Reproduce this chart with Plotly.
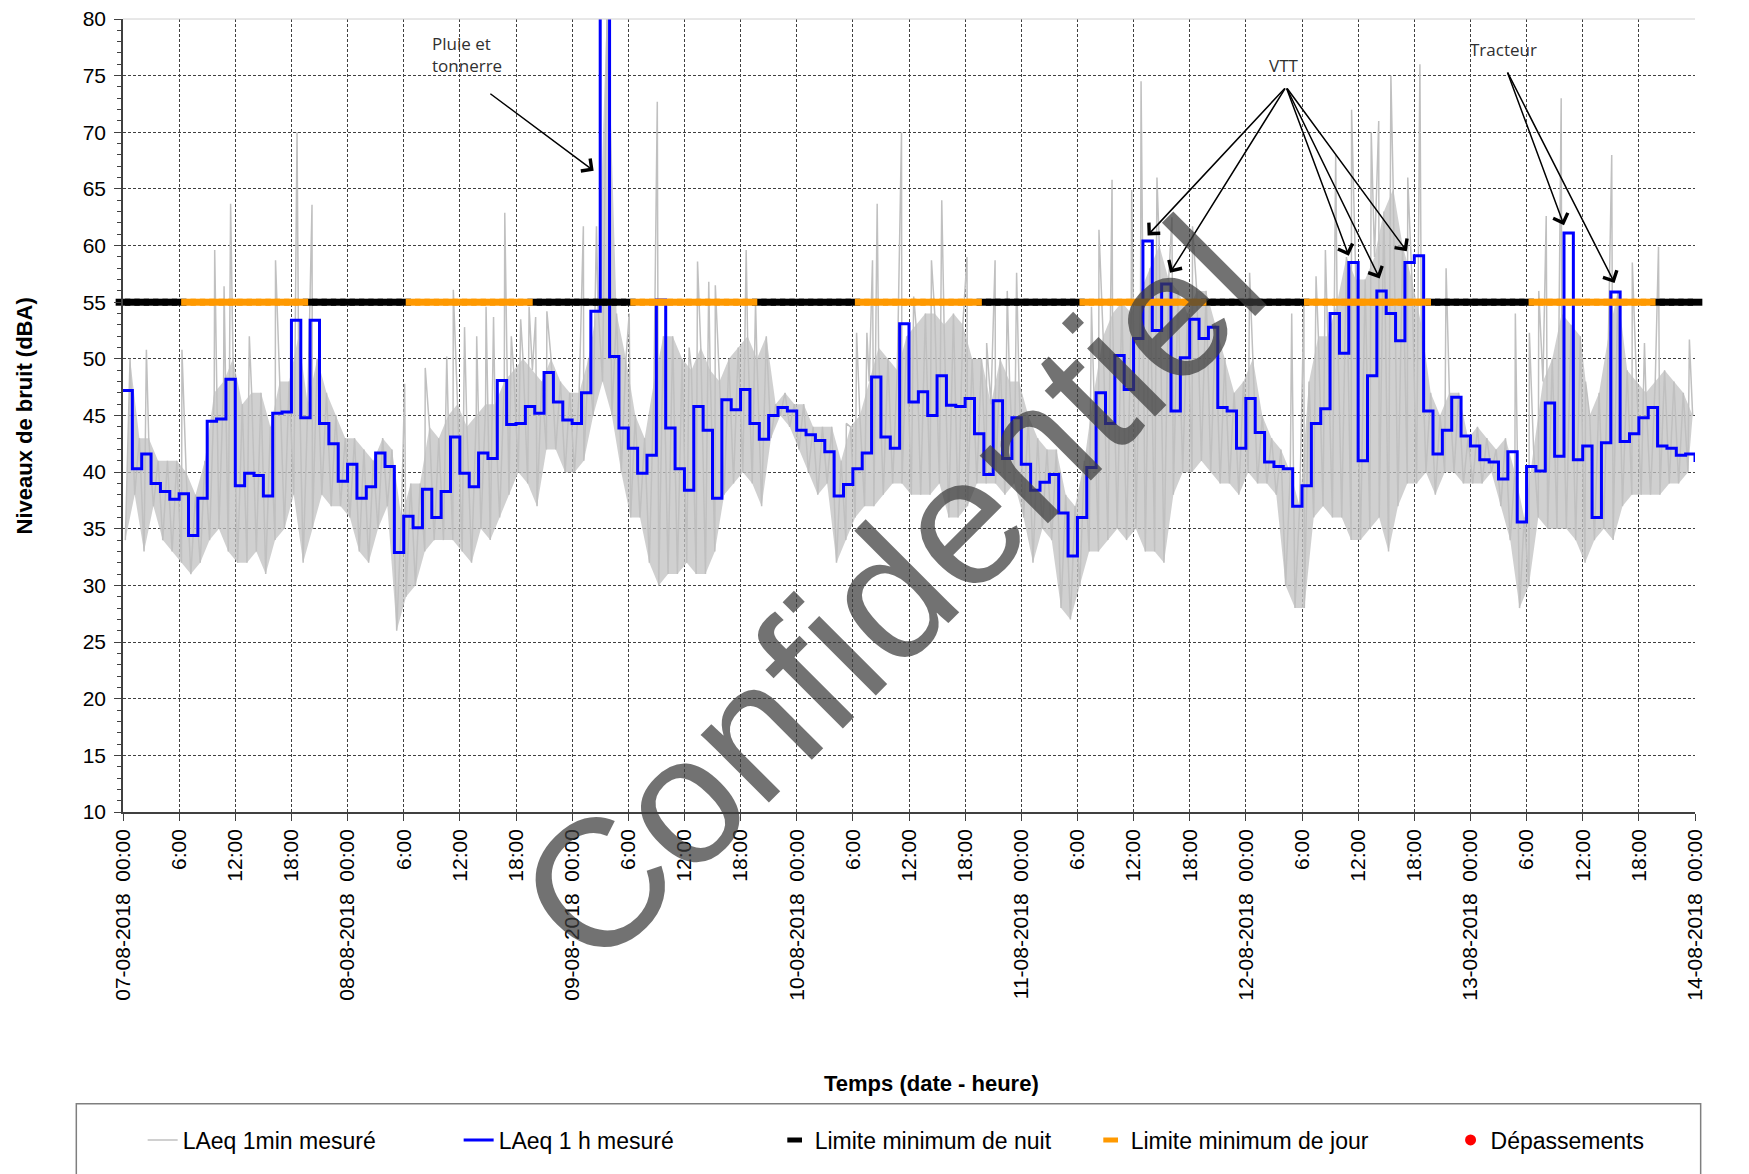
import plotly.graph_objects as go

# --- data -------------------------------------------------------------
day_labels = ["07-08-2018", "08-08-2018", "09-08-2018", "10-08-2018",
              "11-08-2018", "12-08-2018", "13-08-2018", "14-08-2018"]
hour_labels = ["00:00", "6:00", "12:00", "18:00"]

hours = list(range(169))  # 07-08 00:00 -> 14-08 00:00

# LAeq 1 h (dBA), one value per hour (last value closes the step at 14-08 00:00)
laeq_1h = [
    47.2, 40.3, 41.6, 39.0, 38.3, 37.6, 38.1, 34.4, 37.7, 44.5, 44.7, 48.2,
    38.8, 39.9, 39.7, 37.9, 45.2, 45.3, 53.4, 44.8, 53.4, 44.3, 42.5, 39.2,
    40.7, 37.7, 38.7, 41.7, 40.5, 32.9, 36.1, 35.1, 38.5, 36.0, 38.3, 43.1,
    39.9, 38.7, 41.7, 41.2, 48.1, 44.2, 44.3, 45.8, 45.2, 48.8, 46.2, 44.6,
    44.3, 47.0, 54.2, 85.0, 50.2, 43.9, 42.1, 39.9, 41.5, 55.2, 43.9, 40.3,
    38.4, 45.8, 43.7, 37.7, 46.4, 45.5, 47.3, 44.3, 42.9, 45.0, 45.7, 45.4,
    43.7, 43.3, 42.8, 41.8, 37.9, 38.9, 40.3, 41.7, 48.4, 43.1, 42.1, 53.1,
    46.2, 47.1, 45.0, 48.5, 45.9, 45.8, 46.5, 43.4, 39.8, 46.3, 41.2, 44.8,
    40.7, 38.4, 39.1, 39.8, 36.4, 32.6, 36.0, 40.4, 47.0, 44.3, 50.3, 47.3,
    51.8, 60.4, 52.5, 56.6, 45.4, 50.1, 53.5, 51.8, 52.8, 45.7, 45.4, 42.1,
    46.5, 43.5, 40.9, 40.5, 40.3, 37.0, 38.8, 44.3, 45.6, 54.0, 50.5, 58.5,
    41.0, 48.5, 56.0, 54.0, 51.6, 58.5, 59.1, 45.4, 41.6, 43.7, 46.6, 43.2,
    42.3, 41.1, 40.9, 39.4, 41.8, 35.6, 40.5, 40.1, 46.1, 41.4, 61.1, 41.1,
    42.3, 36.0, 42.6, 55.9, 42.7, 43.4, 44.8, 45.7, 42.3, 42.1, 41.5, 41.6,
    40.9,
]

# LAeq 1 min: hourly low / high of the dense band, plus isolated peaks
gray_lo = [
    34, 38, 33, 37, 34, 33, 32, 31, 32, 34, 35, 33, 32, 32, 33, 31, 34, 35, 38, 32, 35, 38, 37, 37,
    36, 33, 32, 35, 37, 26, 29, 30, 33, 34, 34, 34, 33, 32, 35, 34, 36, 38, 40, 39, 37, 42, 42, 40,
    40, 41, 45, 48, 45, 40, 36, 36, 32, 30, 31, 31, 32, 31, 31, 33, 38, 39, 40, 39, 37, 43, 45, 44,
    42, 40, 38, 39, 32, 34, 36, 37, 37, 38, 39, 39, 38, 38, 38, 39, 36, 36, 37, 39, 39, 39, 38, 39,
    36, 32, 35, 34, 28, 27, 30, 33, 33, 34, 35, 34, 35, 33, 33, 32, 38, 40, 40, 41, 40, 39, 39, 38,
    40, 39, 39, 38, 30, 28, 28, 36, 37, 36, 36, 34, 34, 35, 36, 33, 37, 39, 39, 40, 38, 40, 40, 39,
    39, 39, 40, 37, 34, 28, 30, 36, 35, 35, 35, 34, 32, 34, 35, 34, 37, 38, 38, 38, 38, 39, 39, 40,
]
gray_hi = [
    50, 43, 43, 41, 41, 41, 40, 38, 41, 47, 48, 50, 46, 47, 47, 44, 48, 48, 52, 46, 50, 47, 45, 43,
    43, 42, 41, 43, 42, 36, 39, 39, 44, 43, 45, 46, 44, 45, 46, 46, 48, 49, 50, 49, 48, 50, 48, 47,
    47, 50, 55, 82, 54, 50, 45, 43, 48, 52, 52, 50, 49, 51, 49, 48, 50, 51, 52, 50, 52, 46, 47, 46,
    46, 44, 44, 44, 41, 44, 45, 48, 51, 50, 49, 52, 53, 54, 54, 53, 54, 53, 50, 50, 46, 50, 48, 48,
    45, 43, 42, 42, 38, 37, 41, 47, 52, 54, 55, 54, 56, 58, 60, 57, 56, 54, 56, 56, 53, 50, 47, 48,
    50, 45, 43, 42, 40, 37, 48, 52, 52, 55, 59, 57, 57, 59, 63, 65, 60, 57, 53, 47, 45, 47, 47, 43,
    44, 43, 42, 43, 40, 36, 42, 48, 50, 54, 53, 52, 45, 47, 52, 56, 49, 48, 47, 48, 49, 48, 47, 45,
]
spike_h = [2.5, 6.3, 9.8, 10.8, 11.5, 13.5, 16.3, 18.6, 20.2,
           30.1, 32.3, 34.6, 35.3, 36.5, 37.8, 38.8, 39.6, 40.8, 41.5, 42.5, 43.4, 44.1, 45.3,
           49.2, 50.6, 54.1, 57.1, 60.5, 61.4, 62.6, 63.3, 66.6, 67.6,
           77.3, 78.4, 79.5, 80.1, 80.6, 83.2, 84.5, 86.4, 87.5, 90.2, 92.3, 93.2, 94.5, 95.5,
           103.5, 104.3, 105.7, 107.8, 108.8, 110.5, 112.1, 114.3,
           120.4, 124.9, 126.2, 127.5, 128.5, 129.6, 131.3, 133.4, 134.2, 135.5, 137.3, 138.6, 141.4,
           148.8, 150.3, 151.3, 152.1, 153.7, 156.3, 159.1, 161.3, 162.6, 164.1, 167.4]
spike_db = [50.8, 50.8, 59.6, 56.4, 63.7, 52.0, 58.7, 70.0, 63.6,
            47.8, 49.2, 50.2, 56.1, 52.8, 52.0, 54.6, 53.7, 62.9, 52.0, 53.5, 54.6, 53.7, 54.2,
            61.7, 61.7, 54.0, 72.7, 51.0, 58.6, 56.8, 56.5, 59.6, 55.0,
            44.3, 52.3, 52.3, 58.7, 63.7, 70.0, 55.5, 58.7, 64.0, 59.0, 51.4, 58.7, 56.0, 57.6,
            54.6, 61.4, 65.8, 64.9, 74.5, 66.0, 62.5, 61.7,
            57.6, 54.0, 54.9, 57.3, 59.6, 68.0, 72.0, 70.0, 71.0, 75.0, 66.0, 76.0, 58.0,
            54.0, 52.3, 56.0, 62.6, 73.0, 48.0, 68.0, 58.5, 51.4, 59.9, 51.7]

depassements_h = [None]   # no exceedance recorded
depassements_db = [None]

LIMITE = 55
JOUR_DEBUT, JOUR_FIN = 7, 19

# --- build series -----------------------------------------------------
x_lo = [h + 0.25 for h in range(168)]
x_hi = [h + 0.75 for h in range(168)]
pts = list(zip(x_lo, gray_lo)) + list(zip(x_hi, gray_hi)) + list(zip(spike_h, spike_db))
pts.sort()
gray_x = [p[0] for p in pts]
gray_y = [p[1] for p in pts]

limite_nuit = [LIMITE if not (JOUR_DEBUT <= h % 24 <= JOUR_FIN) else None for h in hours]
limite_jour = [LIMITE if (JOUR_DEBUT <= h % 24 <= JOUR_FIN) else None for h in hours]

tickvals = list(range(0, 169, 6))
ticktext = [f"{day_labels[v // 24]}  {hour_labels[0]}" if v % 24 == 0 else hour_labels[(v % 24) // 6]
            for v in tickvals]

TICK_FONT = dict(family="Liberation Sans, Arial", size=21, color="black")
NARROW = "Liberation Sans Narrow, Arial Narrow, Liberation Sans"
GRAY = '#c0c0c0'

fig = go.Figure()

# dense part of the 1 min band
fig.add_trace(go.Scatter(x=x_lo, y=gray_lo, mode='lines', line=dict(width=0),
                         showlegend=False, hoverinfo='skip'))
fig.add_trace(go.Scatter(x=x_hi, y=gray_hi, mode='lines', line=dict(width=0),
                         fill='tonexty', fillcolor='rgba(192,192,192,0.75)',
                         showlegend=False, hoverinfo='skip'))
fig.add_trace(go.Scatter(
    x=gray_x, y=gray_y, mode='lines',
    line=dict(color=GRAY, width=1.5),
    name='LAeq 1min mesuré',
))
fig.add_trace(go.Scatter(
    x=hours, y=laeq_1h, mode='lines', line_shape='hv',
    line=dict(color='#0000ff', width=3),
    name='LAeq 1 h mesuré',
))
fig.add_trace(go.Scatter(
    x=hours, y=limite_nuit, mode='markers', cliponaxis=False,
    marker=dict(symbol='line-ew', size=10.5, line=dict(color='black', width=7)),
    name='Limite minimum de nuit',
))
fig.add_trace(go.Scatter(
    x=hours, y=limite_jour, mode='markers', cliponaxis=False,
    marker=dict(symbol='line-ew', size=10.5, line=dict(color='#ff9900', width=7)),
    name='Limite minimum de jour',
))
fig.add_trace(go.Scatter(
    x=depassements_h, y=depassements_db, mode='markers', legend='legend2',
    marker=dict(symbol='circle', size=11, color='#ff0000'),
    name='Dépassements',
))

axis_common = dict(
    showgrid=True, gridcolor='#404040', griddash='3px,2px', gridwidth=1,
    showline=True, linecolor='#404040', linewidth=1.5,
    ticks='outside', tickcolor='#404040', ticklen=7,
    tickfont=TICK_FONT, zeroline=False, automargin=False,
)
legend_common = dict(
    orientation='h', traceorder='normal', xanchor='left', y=-0.4136, yanchor='middle',
    font=dict(family=NARROW, size=23, color='black'), bgcolor='rgba(0,0,0,0)',
)

fig.update_layout(
    width=1749, height=1174, autosize=False,
    paper_bgcolor='white', plot_bgcolor='white',
    margin=dict(l=123, r=54, t=19, b=362, autoexpand=False),
    showlegend=True,
    xaxis=dict(
        axis_common, range=[0, 168], tickvals=tickvals, ticktext=ticktext,
        tickangle=-90,
    ),
    yaxis=dict(
        axis_common, range=[10, 80], dtick=5, ticklabelstandoff=4,
        minor=dict(dtick=1, ticks='outside', ticklen=4, tickcolor='#404040', showgrid=False),
    ),
    yaxis2=dict(
        overlaying='y', side='right', range=[10, 80], dtick=5, automargin=False,
        showgrid=False, showline=True, linecolor='#404040', linewidth=1.5,
        ticks='outside', tickcolor='#404040', ticklen=7, tickfont=TICK_FONT, zeroline=False,
        minor=dict(dtick=1, ticks='outside', ticklen=4, tickcolor='#404040'),
    ),
    legend=dict(legend_common, x=0.0125, entrywidth=271, entrywidthmode='pixels'),
    legend2=dict(legend_common, x=0.8445),
)

# plot frame top line and legend box
fig.add_shape(type='line', xref='paper', yref='paper', x0=0, x1=1, y0=1, y1=1,
              line=dict(color='#d0d0d0', width=1))
fig.add_shape(type='rect', xref='paper', yref='paper', x0=-0.0297, x1=1.0036, y0=-0.368, y1=-0.55,
              line=dict(color='#7f7f7f', width=1.5))

# axis titles
fig.add_annotation(text='<b>Temps (date - heure)</b>', xref='paper', yref='paper',
                   x=0.514, y=-0.342, xanchor='center', yanchor='middle', showarrow=False,
                   font=dict(family=NARROW, size=22, color='black'))
fig.add_annotation(text='<b>Niveaux de bruit (dBA)</b>', xref='paper', yref='paper',
                   x=-0.0624, y=0.5, xanchor='center', yanchor='middle', textangle=-90,
                   showarrow=False, font=dict(family=NARROW, size=22, color='black'))

# event annotations
NOTE_FONT = dict(family='Open Sans, Noto Sans', size=17, color='#303030')
fig.add_annotation(text='Pluie et<br>tonnerre', x=36.8, y=76.9, showarrow=False,
                   align='left', font=NOTE_FONT)
fig.add_annotation(text='VTT', x=124.0, y=75.9, showarrow=False, font=NOTE_FONT)
fig.add_annotation(text='Tracteur', x=147.5, y=77.3, showarrow=False, font=NOTE_FONT)

arrows = [
    ((39.1, 73.5), (50.3, 66.6)),
    ((124.3, 74.0), (109.5, 60.9)),
    ((124.3, 74.0), (111.9, 57.6)),
    ((124.3, 74.0), (131.0, 59.1)),
    ((124.3, 74.0), (134.3, 57.1)),
    ((124.3, 74.0), (137.2, 59.5)),
    ((147.9, 75.4), (154.0, 61.8)),
    ((147.9, 75.4), (159.4, 56.7)),
]
for (tx, ty), (hx, hy) in arrows:
    fig.add_annotation(x=hx, y=hy, ax=tx, ay=ty, axref='x', ayref='y', text='',
                       showarrow=True, arrowhead=4, arrowsize=2, arrowwidth=1.5,
                       arrowcolor='black', standoff=0)

# watermark
fig.add_annotation(text='Confidentiel', xref='paper', yref='paper', x=0.488, y=0.278,
                   xanchor='center', yanchor='middle', textangle=-45, showarrow=False,
                   font=dict(family='Liberation Sans, Arial', size=182, color='rgba(60,60,60,0.72)'))

fig.write_html("out.html", config={'displayModeBar': False},
               post_script="document.body.style.margin='0';")
